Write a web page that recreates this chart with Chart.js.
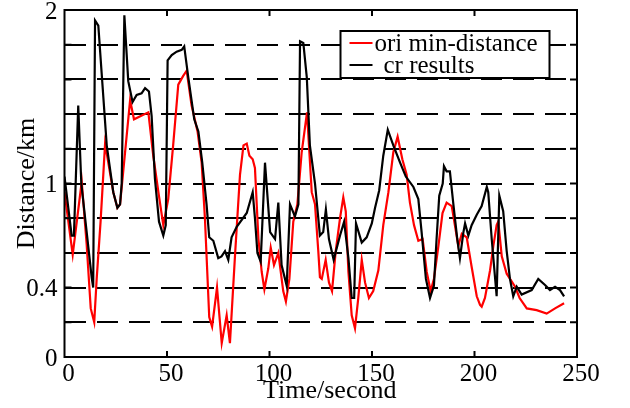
<!DOCTYPE html>
<html>
<head>
<meta charset="utf-8">
<script src="https://cdn.jsdelivr.net/npm/chart.js@4.4.0/dist/chart.umd.min.js"></script>
<style>
  html, body { margin: 0; padding: 0; background: #fff; }
  #wrap { width: 630px; height: 408px; }
</style>
</head>
<body>
<div id="wrap"><canvas id="dist-chart" width="630" height="408"></canvas></div>
<script>
// data
const oriTime = [0, 4, 8.4, 10.8, 12.8, 14.5, 15.7, 17.6, 19.8, 23.8, 25.8, 27.1, 32, 33.9, 40.9,
  43.3, 45.8, 48.2, 50.6, 53, 55.5, 57.9, 59.6, 62, 64.9, 66.9, 68.5, 70.6, 72, 74.4, 76.7, 79.1,
  80.7, 83.2, 85.6, 87.3, 88.9, 90.2, 91.8, 92.9, 94.6, 96.2, 97.5, 99.4, 100.6, 102.2, 104.3,
  106.7, 108, 109.7, 111.6, 113.6, 115.7, 118.3, 120.6, 122.2, 123.8, 124.6, 125.5, 127.4, 129,
  130.5, 132.3, 134.4, 136, 137.2, 138.5, 140.1, 141.7, 143.3, 145, 146.6, 148.5, 150.6, 153.1,
  155.5, 158, 160.4, 162.5, 164.8, 166.9, 168.5, 170.5, 172.6, 174.7, 176.7, 178.6, 180.2, 182.4,
  184.4, 186.4, 188.9, 192.1, 193.8, 196.2, 198.6, 201.1, 202.7, 203.5, 205.1, 207.6, 209.2,
  210.8, 211.6, 213.3, 215.7, 219.8, 222, 225.5, 230.3, 235.2, 239.3, 243.7];
const oriDist = [0.95, 0.59, 1.01, 0.65, 0.28, 0.2, 0.45, 0.78, 1.23, 0.95, 0.86, 0.88, 1.48, 1.37, 1.41,
  1.16, 0.95, 0.76, 0.91, 1.22, 1.57, 1.62, 1.65, 1.45, 1.3, 1.12, 0.8, 0.23, 0.175, 0.4, 0.08, 0.24,
  0.08, 0.59, 1.05, 1.22, 1.23, 1.16, 1.14, 1.09, 0.68, 0.49, 0.39, 0.51, 0.63, 0.53, 0.6,
  0.38, 0.32, 0.45, 0.78, 0.88, 1.18, 1.41, 0.95, 0.88, 0.61, 0.46, 0.45, 0.56, 0.43,
  0.38, 0.61, 0.8, 0.92, 0.84, 0.49, 0.24, 0.165, 0.34, 0.56, 0.43, 0.34, 0.38, 0.5,
  0.76, 0.95, 1.18, 1.27, 1.14, 1.05, 0.89, 0.76, 0.67, 0.68, 0.49, 0.38, 0.45, 0.64,
  0.83, 0.89, 0.87, 0.64, 0.71, 0.69, 0.52, 0.35, 0.3, 0.29, 0.34, 0.5, 0.64,
  0.76, 0.78, 0.58, 0.48, 0.405, 0.34, 0.28, 0.27, 0.25, 0.28, 0.31];

const crTime = [0, 3.5, 4.6, 6.7, 8.2, 13.3, 14, 14.9, 16.5, 18.1, 20.6, 23.8, 25.8, 27.1, 27.9, 29.2,
  31.1, 33.2, 35.2, 37.6, 39.3, 41.2, 42.5, 44.1, 46.1, 48.2, 49.4, 50.3, 52.3, 54.7, 57.2, 58.4,
  60.4, 63.3, 65.3, 67.2, 69.3, 70.6, 72.6, 75, 76.6, 78.3, 79.9, 81.5, 84, 88.9, 91.8, 92.9, 94.1,
  95.7, 97.8, 100.3, 102.7, 104.3, 105.9, 108.4, 110, 112.4, 114.1, 114.9, 116.5, 118.2, 119.7,
  122.2, 124.6, 126.2, 127.5, 129, 131.3, 134.4, 136.4, 138.5, 140.1, 141.3, 142.2, 145, 147.4,
  149.9, 151.5, 153.5, 155.5, 157.7, 160.4, 163.7, 166.5, 170.2, 172.6, 174.2, 176.3, 178.3,
  180.2, 181.5, 182.8, 184.5, 185.1, 186.4, 188, 189.7, 191.6, 192.9, 194.6, 195.4, 197, 198.6,
  201.1, 203.5, 206, 206.7, 208.4, 210.8, 212.1, 214, 215.7, 217.3, 218.9, 220.6, 223, 227.9,
  231.1, 234.4, 236.8, 239.3, 241.7, 243.7];
const crDist = [1.04, 0.7, 0.7, 1.45, 1.0, 0.455, 0.4, 1.94, 1.91, 1.64, 1.22, 0.95, 0.86, 0.88, 1.0, 1.97,
  1.59, 1.47, 1.51, 1.52, 1.55, 1.53, 1.39, 1.03, 0.78, 0.7, 0.76, 1.71, 1.74, 1.76, 1.77, 1.79,
  1.61, 1.37, 1.3, 1.12, 0.88, 0.69, 0.67, 0.57, 0.58, 0.61, 0.56, 0.69, 0.75, 0.83, 0.95, 0.8, 0.6,
  0.55, 1.12, 0.72, 0.68, 0.89, 0.53, 0.41, 0.88, 0.81, 0.88, 1.82, 1.81, 1.61, 1.22,
  1.0, 0.7, 0.72, 0.85, 0.68, 0.56, 0.7, 0.78, 0.57, 0.34, 0.34, 0.77, 0.66, 0.69,
  0.77, 0.86, 0.96, 1.16, 1.31, 1.22, 1.12, 1.04, 0.98, 0.91, 0.72, 0.45, 0.34,
  0.41, 0.68, 0.93, 1.0, 1.1, 1.07, 1.07, 0.88, 0.68, 0.57, 0.72, 0.77, 0.7, 0.76,
  0.82, 0.87, 0.98, 0.95, 0.68, 0.35, 0.93, 0.84, 0.61, 0.45, 0.35, 0.405, 0.36, 0.386,
  0.45, 0.415, 0.386, 0.405, 0.386, 0.35];

const xRange = [0, 250];
const yRange = [0, 2];
const yLabels = [0, 0.4, 1, 2];
const seriesNames = ["ori min-distance", "cr results"];
const xTitle = "Time/second";

const SERIF = "'Liberation Serif', 'Times New Roman', serif";

const toPoints = (xs, ys) => xs.map((t, i) => ({ x: t, y: ys[i] }));

// frame, inward ticks, x title and legend box
const framePlugin = {
  id: "frame",
  afterDraw(chart) {
    const { ctx, chartArea: a, scales: { x, y } } = chart;
    ctx.save();
    ctx.strokeStyle = "#000";
    ctx.lineWidth = 2;
    ctx.beginPath();
    x.ticks.forEach(t => {
      if (t.value <= xRange[0] || t.value >= xRange[1]) return;
      const px = x.getPixelForValue(t.value);
      ctx.moveTo(px, a.bottom); ctx.lineTo(px, a.bottom - 6);
      ctx.moveTo(px, a.top); ctx.lineTo(px, a.top + 6);
    });
    y.ticks.forEach(t => {
      if (t.value <= yRange[0] || t.value >= yRange[1]) return;
      const py = y.getPixelForValue(t.value);
      ctx.moveTo(a.left, py); ctx.lineTo(a.left + 7, py);
      ctx.moveTo(a.right, py); ctx.lineTo(a.right - 7, py);
    });
    ctx.stroke();
    ctx.strokeRect(a.left, a.top, a.width, a.height);

    // x axis title, sits a bit right of centre in the original
    ctx.fillStyle = "#000";
    ctx.font = "26px " + SERIF;
    ctx.textAlign = "center";
    ctx.textBaseline = "alphabetic";
    ctx.fillText(xTitle, (a.left + a.right) / 2 + 9, a.bottom + 41);

    // legend
    const bx = a.left + 276, by = a.top + 21, bw = 209, bh = 47;
    ctx.fillStyle = "#fff";
    ctx.fillRect(bx, by, bw, bh);
    ctx.strokeRect(bx, by, bw, bh);
    const order = [1, 0];
    ctx.font = "25px " + SERIF;
    ctx.textBaseline = "middle";
    ctx.textAlign = "left";
    order.forEach((di, row) => {
      const ds = chart.data.datasets[di];
      const ly = by + 12 + row * 22;
      ctx.strokeStyle = ds.borderColor;
      ctx.beginPath();
      ctx.moveTo(bx + 9, ly); ctx.lineTo(bx + 32, ly);
      ctx.stroke();
      ctx.fillStyle = "#000";
      ctx.fillText(ds.label, bx + (row === 0 ? 34 : 43), ly + 1);
    });
    ctx.restore();
  }
};

const chart = new Chart(document.getElementById("dist-chart"), {
  type: "line",
  data: {
    datasets: [
      {
        label: seriesNames[1],
        data: toPoints(crTime, crDist),
        borderColor: "#000000",
        borderWidth: 2.2,
        pointRadius: 0,
        tension: 0,
      },
      {
        label: seriesNames[0],
        data: toPoints(oriTime, oriDist),
        borderColor: "#ff0000",
        borderWidth: 2.2,
        pointRadius: 0,
        tension: 0,
      },
    ],
  },
  options: {
    responsive: false,
    animation: false,
    parsing: false,
    layout: { padding: { left: 8, right: 53, top: 10, bottom: 0 } },
    plugins: { legend: { display: false }, tooltip: { enabled: false } },
    scales: {
      x: {
        type: "linear",
        min: xRange[0],
        max: xRange[1],
        ticks: {
          stepSize: 50,
          color: "#000",
          padding: 2,
          labelOffset: 4,
          maxRotation: 0,
          font: { family: SERIF, size: 25 },
        },
        grid: { display: false, drawTicks: false },
        border: { display: false },
        title: { display: false },
        afterFit(scale) {
          scale.height = 51;
          scale.paddingLeft = 0;
          scale.paddingRight = 0;
        },
      },
      y: {
        min: yRange[0],
        max: yRange[1],
        ticks: {
          stepSize: 0.2,
          color: "#000",
          padding: 7,
          labelOffset: 2,
          font: { family: SERIF, size: 25 },
          autoSkip: false,
          callback: v => {
            const r = Math.round(v * 10) / 10;
            return yLabels.includes(r) ? String(r) : "";
          },
        },
        grid: {
          drawTicks: false,
          lineWidth: 2,
          color: c => {
            const v = Math.round(c.tick.value * 10) / 10;
            return v <= yRange[0] || v >= yRange[1] ? "rgba(0,0,0,0)" : "#000";
          },
        },
        border: { display: false, dash: [21, 11] },
        title: {
          display: true,
          text: "Distance/km",
          color: "#000",
          font: { family: SERIF, size: 26 },
          padding: { top: 4, bottom: 0 },
        },
        afterFit(scale) {
          scale.width = 56.5;
          scale.paddingTop = 0;
          scale.paddingBottom = 0;
        },
      },
    },
  },
  plugins: [framePlugin],
});
</script>
</body>
</html>
